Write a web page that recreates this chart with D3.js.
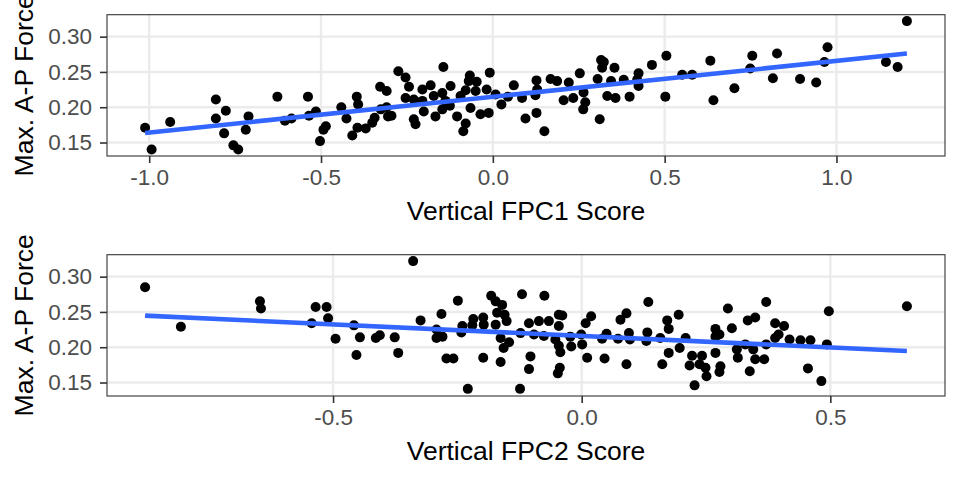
<!DOCTYPE html>
<html><head><meta charset="utf-8">
<script src="https://cdn.jsdelivr.net/npm/d3@7"></script>
<style>body{margin:0;background:#fff}svg{display:block}text{font-family:"Liberation Sans",Arial,Helvetica,sans-serif}</style>
</head><body>
<svg id="c" width="960" height="480"></svg>
<script>
// ---- data ----
const fpc1 = [-1.012,-0.993,-0.939,-0.806,-0.777,-0.806,-0.782,-0.755,-0.741,-0.711,-0.719,-0.627,-0.605,-0.586,-0.538,-0.535,-0.515,-0.503,-0.486,-0.493,-0.441,-0.426,-0.396,-0.392,-0.409,-0.394,-0.370,-0.351,-0.344,-0.328,-0.309,-0.326,-0.309,-0.305,-0.295,-0.275,
-0.254,-0.244,-0.254,-0.225,-0.230,-0.205,-0.181,-0.201,-0.167,-0.144,-0.123,-0.125,-0.104,-0.086,-0.079,-0.067,-0.070,-0.065,-0.036,-0.012,-0.009,0.025,0.061,0.085,0.095,0.127,0.127,0.124,0.150,0.168,0.187,0.206,0.221,0.234,0.253,0.263,0.269,0.264,0.305,0.311,0.315,0.323,0.318,0.354,0.333,0.344,0.357,0.381,0.398,0.424,0.424,0.463,0.505,0.502,0.551,
-0.230,-0.205,-0.172,-0.147,-0.138,-0.047,-0.079,-0.094,-0.050,-0.018,0.008,-0.147,0.129,0.044,0.420,
0.580,0.633,0.642,0.703,0.749,0.755,0.815,0.827,0.894,0.941,0.965,0.974,1.144,1.178,1.205];
const force1 = [0.171,0.140,0.179,0.211,0.195,0.184,0.163,0.146,0.140,0.187,0.168,0.215,0.181,0.184,0.215,0.188,0.194,0.152,0.173,0.168,0.200,0.184,0.215,0.204,0.160,0.171,0.170,0.178,0.185,0.229,0.223,0.197,0.200,0.187,0.188,0.251,
0.242,0.229,0.213,0.176,0.183,0.225,0.231,0.194,0.187,0.257,0.230,0.202,0.187,0.166,0.177,0.245,0.237,0.199,0.190,0.192,0.249,0.204,0.231,0.213,0.184,0.192,0.238,0.217,0.166,0.240,0.237,0.210,0.235,0.213,0.248,0.197,0.207,0.221,0.240,0.183,0.267,0.264,0.256,0.256,0.216,0.237,0.213,0.239,0.215,0.248,0.230,0.260,0.273,0.215,0.246,
0.211,0.209,0.216,0.220,0.209,0.236,0.224,0.216,0.223,0.225,0.218,0.197,0.225,0.215,0.239,
0.246,0.266,0.210,0.227,0.255,0.273,0.241,0.276,0.240,0.235,0.264,0.285,0.264,0.257,0.322];
const fpc2 = [-0.878,-0.806,-0.647,-0.645,-0.535,-0.513,-0.510,-0.543,-0.495,-0.458,-0.446,-0.453,-0.414,-0.406,-0.376,-0.369,
-0.339,-0.324,-0.282,-0.249,-0.292,-0.292,-0.280,-0.272,-0.258,-0.240,-0.242,-0.229,-0.218,-0.220,-0.198,-0.197,-0.198,-0.182,-0.173,-0.160,-0.170,-0.155,-0.151,-0.173,-0.163,-0.146,-0.157,-0.163,-0.124,-0.120,-0.123,-0.106,-0.106,-0.103,
-0.075,-0.086,-0.096,-0.066,-0.046,-0.039,-0.046,-0.076,-0.053,-0.046,-0.043,-0.044,-0.048,-0.023,-0.021,-0.001,0.001,0.011,0.008,0.019,0.041,0.050,0.046,0.078,0.090,0.073,0.095,0.097,0.090,0.134,0.132,0.130,0.158,
0.654,0.497,0.493,0.482,0.455,0.460,0.440,0.418,0.407,0.389,0.396,0.389,0.371,0.371,0.367,0.349,0.334,0.329,0.345,0.349,0.338,0.312,0.314,0.302,0.294,0.269,0.277,0.269,0.269,0.279,0.277,0.249,0.251,0.242,0.237,0.222,0.217,0.227,0.209,0.197,0.195,0.172,0.175,0.175,0.162];
const force2 = [0.285,0.229,0.265,0.255,0.257,0.257,0.241,0.234,0.212,0.231,0.214,0.189,0.213,0.217,0.214,0.192,
0.322,0.238,0.247,0.266,0.225,0.213,0.215,0.184,0.184,0.230,0.221,0.141,0.240,0.231,0.242,0.232,0.185,0.273,0.265,0.260,0.249,0.246,0.237,0.232,0.213,0.207,0.199,0.179,0.141,0.275,0.220,0.234,0.169,0.187,
0.273,0.237,0.218,0.237,0.246,0.245,0.230,0.216,0.211,0.202,0.193,0.171,0.163,0.215,0.201,0.218,0.204,0.185,0.234,0.244,0.212,0.219,0.184,0.239,0.248,0.212,0.220,0.211,0.176,0.264,0.221,0.209,0.213,
0.258,0.251,0.204,0.152,0.170,0.210,0.210,0.211,0.230,0.234,0.218,0.213,0.264,0.204,0.183,0.242,0.238,0.204,0.197,0.183,0.166,0.197,0.185,0.227,0.255,0.226,0.218,0.215,0.192,0.173,0.165,0.171,0.159,0.188,0.176,0.188,0.174,0.146,0.213,0.199,0.246,0.238,0.226,0.192,0.176];
const xTicks1 = [-1.0,-0.5,0.0,0.5,1.0];
const xTicks2 = [-0.5,0.0,0.5];
const yTicks = [0.15,0.20,0.25,0.30];
const xTitles = ["Vertical FPC1 Score","Vertical FPC2 Score"];
const yTitle = "Max. A-P Force";

// ---- layout ----
const svg = d3.select("#c");
const L = 107, R = 945, PH = 141.3;
const tops = [14.7, 254.7];
function expand(ext){const d=ext[1]-ext[0];return [ext[0]-0.05*d, ext[1]+0.05*d];}
const yDom = expand(d3.extent(force1.concat(force2)));

function lm(xs, ys){
  const mx=d3.mean(xs), my=d3.mean(ys);
  let sxy=0,sxx=0;
  xs.forEach((x,i)=>{sxy+=(x-mx)*(ys[i]-my);sxx+=(x-mx)*(x-mx);});
  const b=sxy/sxx; return {a:my-b*mx,b:b};
}

const panels = [
  {xs:fpc1, ys:force1, ticks:xTicks1, title:xTitles[0]},
  {xs:fpc2, ys:force2, ticks:xTicks2, title:xTitles[1]}
];

panels.forEach((p,k)=>{
  const T = tops[k], B = T+PH;
  const ext = d3.extent(p.xs);
  const x = d3.scaleLinear().domain(expand(ext)).range([L,R]);
  const y = d3.scaleLinear().domain(yDom).range([B,T]);
  const g = svg.append("g");
  g.selectAll(".gx").data(p.ticks).join("line")
    .attr("x1",d=>x(d)).attr("x2",d=>x(d)).attr("y1",T).attr("y2",B)
    .attr("stroke","#EBEBEB").attr("stroke-width",2.4);
  g.selectAll(".gy").data(yTicks).join("line")
    .attr("x1",L).attr("x2",R).attr("y1",d=>y(d)).attr("y2",d=>y(d))
    .attr("stroke","#EBEBEB").attr("stroke-width",2.4);
  g.selectAll("circle").data(p.xs.map((v,i)=>[v,p.ys[i]])).join("circle")
    .attr("cx",d=>x(d[0])).attr("cy",d=>y(d[1])).attr("r",5).attr("fill","#000");
  const f = lm(p.xs,p.ys);
  g.append("line")
    .attr("x1",x(ext[0])).attr("y1",y(f.a+f.b*ext[0]))
    .attr("x2",x(ext[1])).attr("y2",y(f.a+f.b*ext[1]))
    .attr("stroke","#3366FF").attr("stroke-width",4.6);
  g.append("rect").attr("x",L).attr("y",T).attr("width",R-L).attr("height",PH)
    .attr("fill","none").attr("stroke","#333333").attr("stroke-width",1.1);
  const ax = d3.axisBottom(x).tickValues(p.ticks).tickFormat(d3.format(".1f")).tickSize(7).tickPadding(6);
  const gx = g.append("g").attr("transform",`translate(0,${B})`).call(ax);
  const ay = d3.axisLeft(y).tickValues(yTicks).tickFormat(d3.format(".2f")).tickSize(7).tickPadding(8);
  const gy = g.append("g").attr("transform",`translate(${L},0)`).call(ay);
  [gx,gy].forEach(a=>{
    a.select(".domain").remove();
    a.selectAll(".tick line").attr("stroke","#333333").attr("stroke-width",1.6);
    a.selectAll(".tick text").attr("fill","#4D4D4D").style("font-size","22.5px").style("font-family",'"Liberation Sans",Arial,sans-serif');
  });
  gx.selectAll(".tick text").text(d=>d3.format(".1f")(d).replace("−","-"));
  g.append("text").attr("x",(L+R)/2).attr("y",B+64).attr("text-anchor","middle")
    .style("font-size","26.5px").attr("fill","#000").text(p.title);
  g.append("text").attr("transform",`translate(33,${(T+B)/2}) rotate(-90)`).attr("text-anchor","middle")
    .style("font-size","26.5px").attr("fill","#000").text(yTitle);
});
</script>
</body></html>
